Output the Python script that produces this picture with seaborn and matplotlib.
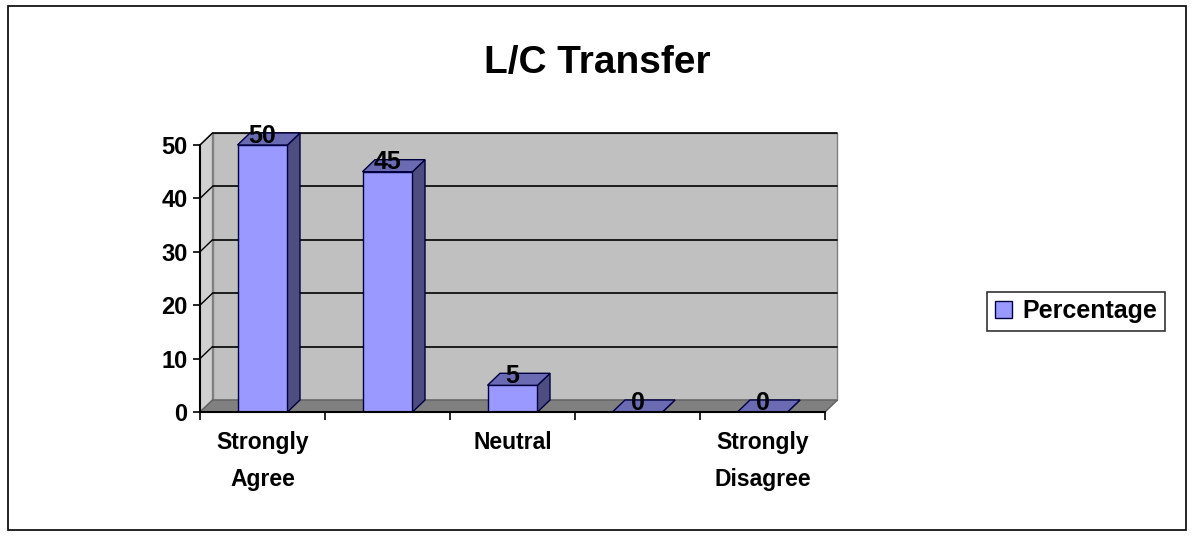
import numpy as np
import pandas as pd
import matplotlib.pyplot as plt
import seaborn as sns
from matplotlib.patches import Polygon, Rectangle, Patch

# data
categories = ["Strongly Agree", "Agree", "Neutral", "Disagree", "Strongly Disagree"]
percentages = [50, 45, 5, 0, 0]
shown_labels = ["Strongly\nAgree", "", "Neutral", "", "Strongly\nDisagree"]
y_ticks = [0, 10, 20, 30, 40, 50]

df = pd.DataFrame({"Response": categories, "Percentage": percentages})

sns.set_theme(style="white")
plt.rcParams['font.family'] = ['Liberation Sans', 'DejaVu Sans']
plt.rcParams['font.weight'] = 'bold'
plt.rcParams['text.color'] = 'black'
plt.rcParams['xtick.color'] = 'black'
plt.rcParams['ytick.color'] = 'black'
plt.rcParams['xtick.labelcolor'] = 'black'
plt.rcParams['ytick.labelcolor'] = 'black'

fig = plt.figure(figsize=(11.94, 5.36), dpi=100)
ax = fig.add_axes([200 / 1194, 1 - 412 / 536, 625 / 1194, 267 / 536])

front = "#9999FF"
side = "#4D4D80"
top = "#6B6BB3"

sns.barplot(data=df, x="Response", y="Percentage", color=front, width=0.4,
            saturation=1, edgecolor="#000040", linewidth=1.0, ax=ax, zorder=3)

ax.set_xlim(-0.5, len(categories) - 0.5)
ax.set_ylim(0, 50)
ax.set_facecolor("none")

# pseudo 3D depth, in data units
dx, dy = 0.1, 2.25
x0, x1 = ax.get_xlim()
ymax = ax.get_ylim()[1]

# back wall, side wall, floor
ax.add_patch(Polygon([(x0 + dx, dy), (x1 + dx, dy), (x1 + dx, ymax + dy), (x0 + dx, ymax + dy)],
                     closed=True, facecolor="#C0C0C0", edgecolor="#808080", lw=1, zorder=0, clip_on=False))
ax.add_patch(Polygon([(x0, 0), (x0 + dx, dy), (x0 + dx, ymax + dy), (x0, ymax)],
                     closed=True, facecolor="#D0D0D0", edgecolor="#808080", lw=1, zorder=0, clip_on=False))
ax.add_patch(Polygon([(x0, 0), (x0 + dx, dy), (x1 + dx, dy), (x1, 0)],
                     closed=True, facecolor="#808080", edgecolor="#606060", lw=1, zorder=1, clip_on=False))
for v in y_ticks[1:]:
    ax.plot([x0 + dx, x1 + dx], [v + dy, v + dy], color="black", lw=1.2, zorder=1, clip_on=False)
    ax.plot([x0, x0 + dx], [v, v + dy], color="black", lw=1, zorder=1, clip_on=False)

# side and top faces of each bar
for p in ax.patches[:]:
    if not isinstance(p, Rectangle):
        continue
    bx, bw, bh = p.get_x(), p.get_width(), p.get_height()
    ax.add_patch(Polygon([(bx + bw, 0), (bx + bw + dx, dy), (bx + bw + dx, bh + dy), (bx + bw, bh)],
                         closed=True, facecolor=side, edgecolor="#000040", lw=1, zorder=3, clip_on=False))
    ax.add_patch(Polygon([(bx, bh), (bx + dx, bh + dy), (bx + bw + dx, bh + dy), (bx + bw, bh)],
                         closed=True, facecolor=top, edgecolor="#000040", lw=1, zorder=3, clip_on=False))

for c in ax.containers:
    ax.bar_label(c, labels=[str(v) for v in percentages], padding=-2, fontsize=18,
                 fontweight="bold", color="black", zorder=5)

# axes styling
ax.set_yticks(y_ticks)
ax.set_xticks(range(len(categories)))
ax.set_xticklabels(shown_labels, fontsize=16.5, fontweight="bold", linespacing=1.75)
ax.set_xticks(np.arange(len(categories) + 1) - 0.5, minor=True)
ax.tick_params(axis="x", which="major", length=0, pad=14)
ax.tick_params(axis="x", which="minor", length=6, width=1.2, color="black", direction="out")
ax.tick_params(axis="y", length=5, width=1.2, color="black", direction="out", labelsize=17, pad=4)
for t in ax.get_yticklabels():
    t.set_fontweight("bold")
ax.yaxis.set_ticks_position("left")
ax.xaxis.set_ticks_position("bottom")
ax.set_xlabel("")
ax.set_ylabel("")
ax.grid(False)
for s in ["top", "right"]:
    ax.spines[s].set_visible(False)
for s in ["left", "bottom"]:
    ax.spines[s].set_color("black")
    ax.spines[s].set_linewidth(1.5)
    ax.spines[s].set_zorder(4)

fig.text(0.5, 1 - 63 / 536, "L/C Transfer", ha="center", va="center",
         fontsize=28, fontweight="bold", color="black")

fig.legend(handles=[Patch(facecolor=front, edgecolor="#000040", label="Percentage")],
           loc="center", bbox_to_anchor=(1076 / 1194, 1 - 311 / 536),
           fontsize=18, frameon=True, fancybox=False, edgecolor="black",
           handlelength=0.7, handleheight=0.7, handletextpad=0.4, borderpad=0.3)
leg = fig.legends[0]
leg.get_frame().set_linewidth(1.2)
for t in leg.get_texts():
    t.set_fontweight("bold")
    t.set_color("black")

fig.patches.append(Rectangle((8 / 1194, 6 / 536), 1178 / 1194, 524 / 536, transform=fig.transFigure,
                             fill=False, edgecolor="black", lw=1.2))

fig.savefig("out.png", dpi=100, facecolor="white")
